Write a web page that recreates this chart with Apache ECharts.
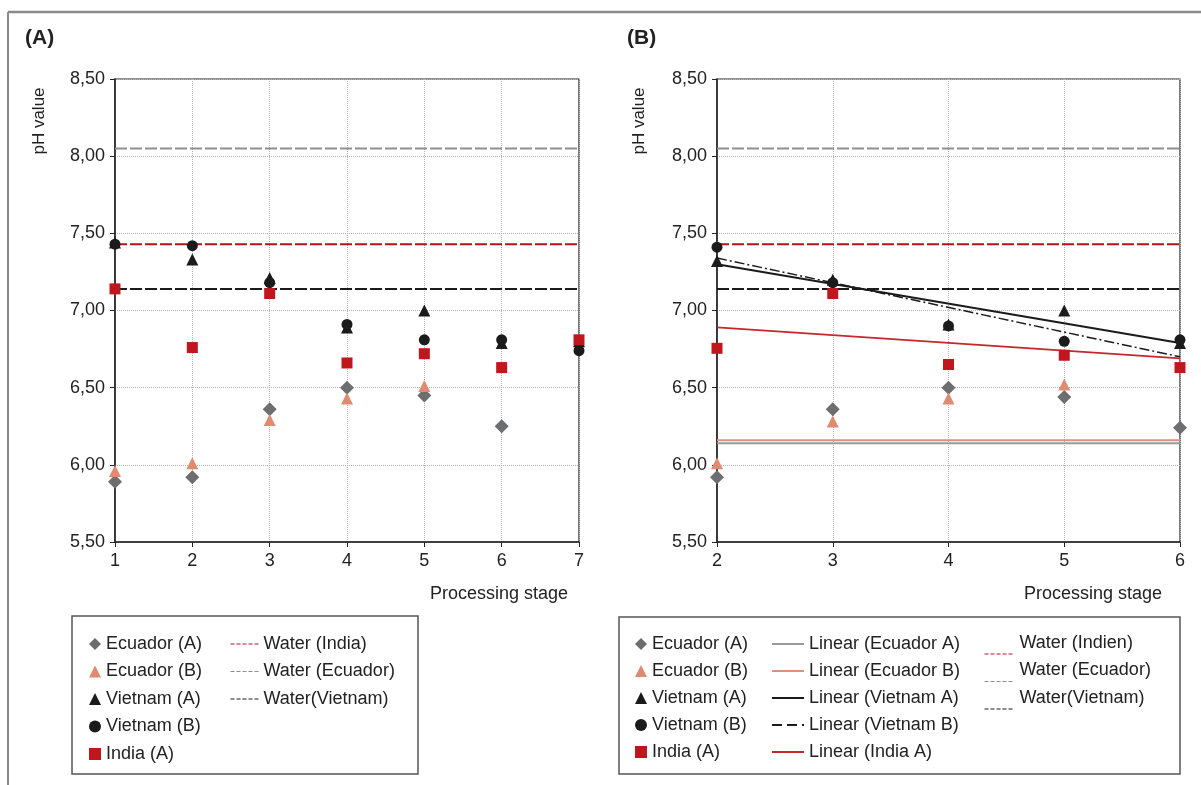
<!DOCTYPE html>
<html>
<head>
<meta charset="utf-8">
<title>pH value by processing stage</title>
<script src="https://cdn.jsdelivr.net/npm/echarts@6/dist/echarts.min.js"></script>
<style>
  html, body { margin: 0; padding: 0; background: #fff; }
  #main { width: 1201px; height: 785px; }
</style>
</head>
<body>
<div id="main"></div>
<script>
// stages shown on each panel
const stagesA = [1, 2, 3, 4, 5, 6, 7];
const stagesB = [2, 3, 4, 5, 6];
const yTicks = [5.5, 8.5];

// pH values (null = no point)
const ecuadorA = [5.89, 5.92, 6.36, 6.50, 6.45, 6.25, null];
const ecuadorB = [5.96, 6.01, 6.29, 6.43, 6.51, null, null];
const vietnamA = [7.44, 7.33, 7.21, 6.89, 7.00, 6.79, 6.80];
const vietnamB = [7.43, 7.42, 7.18, 6.91, 6.81, 6.81, 6.74];
const indiaA   = [7.14, 6.76, 7.11, 6.66, 6.72, 6.63, 6.81];

// panel B values (stages 2..6)
const ecuadorA2 = [5.92, 6.36, 6.50, 6.44, 6.24];
const ecuadorB2 = [6.01, 6.28, 6.43, 6.52, null];
const vietnamA2 = [7.32, 7.20, 6.91, 7.00, 6.79];
const vietnamB2 = [7.41, 7.18, 6.90, 6.80, 6.81];
const indiaA2   = [6.755, 7.11, 6.65, 6.71, 6.63];

// water reference levels: India, Ecuador, Vietnam
const waterPH = [7.43, 8.05, 7.14];

// linear trend lines in panel B, value at stage 2 and stage 6
const trendStages = [2, 6];
const trendEcuadorA = [6.14, 6.14];
const trendEcuadorB = [6.16, 6.16];
const trendVietnamA = [7.30, 6.79];
const trendVietnamB = [7.34, 6.70];
const trendIndiaA   = [6.89, 6.69];

const C_GREY = '#6d6e70';
const C_SALMON = '#e08a70';
const C_BLACK = '#1b1b1b';
const C_RED = '#c0161e';
const FONT = 'Liberation Sans, Arial, sans-serif';

function pts(xs, ys) {
  const out = [];
  xs.forEach((x, i) => { if (ys[i] != null) out.push([x, ys[i]]); });
  return out;
}

function flat(xs, v) {
  return [[xs[0], v], [xs[xs.length - 1], v]];
}

const chart = echarts.init(document.getElementById('main'));

function xAxis(gridIndex, range) {
  return {
    type: 'value', gridIndex: gridIndex, min: range[0], max: range[range.length - 1], interval: 1,
    axisLine: { show: true, onZero: false, lineStyle: { color: '#222', width: 1.5 } },
    axisTick: { show: true, length: 5, lineStyle: { color: '#222' } },
    axisLabel: { fontSize: 18, color: '#222', margin: 10, fontFamily: FONT },
    splitLine: { show: true, lineStyle: { color: '#b4b4b4', type: 'dotted' } }
  };
}

function yAxis(gridIndex) {
  return {
    type: 'value', gridIndex: gridIndex, min: yTicks[0], max: yTicks[1], interval: 0.5,
    axisLine: { show: true, lineStyle: { color: '#222', width: 1.5 } },
    axisTick: { show: true, length: 5, lineStyle: { color: '#222' } },
    axisLabel: {
      fontSize: 18, color: '#222', margin: 10, fontFamily: FONT,
      formatter: v => v.toFixed(2).replace('.', ',')
    },
    splitLine: { show: true, lineStyle: { color: '#b4b4b4', type: 'dotted' } }
  };
}

function scatter(name, idx, data, symbol, size, color) {
  return {
    name: name, type: 'scatter', xAxisIndex: idx, yAxisIndex: idx,
    symbol: symbol, symbolSize: size, itemStyle: { color: color, opacity: 1 },
    data: data, z: 5
  };
}

function line(name, idx, data, color, width, type) {
  return {
    name: name, type: 'line', xAxisIndex: idx, yAxisIndex: idx, symbol: 'none',
    lineStyle: { color: color, width: width, type: type }, itemStyle: { color: color },
    data: data, z: 3, silent: true
  };
}

const dash = [12, 3];
const legendText = { fontSize: 18, color: '#222', fontFamily: FONT, lineHeight: 20 };
// hides the point symbol that line series put in the middle of their legend icon
const noDot = { opacity: 0 };

const option = {
  animation: false,
  backgroundColor: '#fff',
  title: [
    { text: '(A)', left: 25, top: 28, padding: 0, textStyle: { fontSize: 21, fontWeight: 'bold', color: '#222', fontFamily: FONT } },
    { text: '(B)', left: 627, top: 28, padding: 0, textStyle: { fontSize: 21, fontWeight: 'bold', color: '#222', fontFamily: FONT } }
  ],
  grid: [
    { left: 115, top: 79, width: 464, height: 463, show: true, borderColor: '#222', borderWidth: 1.2, backgroundColor: 'transparent' },
    { left: 717, top: 79, width: 463, height: 463, show: true, borderColor: '#222', borderWidth: 1.2, backgroundColor: 'transparent' }
  ],
  xAxis: [xAxis(0, stagesA), xAxis(1, stagesB)],
  yAxis: [yAxis(0), yAxis(1)],
  legend: [
    {
      orient: 'vertical', left: 84, top: 629, itemWidth: 12, itemHeight: 12, itemGap: 7.5,
      selectedMode: false, textStyle: legendText,
      data: ['Ecuador (A)', 'Ecuador (B)', 'Vietnam (A)', 'Vietnam (B)', 'India (A)']
    },
    {
      orient: 'vertical', left: 225, top: 629, itemWidth: 28, itemHeight: 12, itemGap: 7.5,
      selectedMode: false, textStyle: legendText, itemStyle: noDot,
      lineStyle: { width: 1, type: [4, 2] },
      data: ['Water (India)', 'Water (Ecuador)', 'Water(Vietnam)']
    },
    {
      orient: 'vertical', left: 630, top: 629, itemWidth: 12, itemHeight: 12, itemGap: 7,
      selectedMode: false, textStyle: legendText,
      data: ['Ecuador (A)', 'Ecuador (B)', 'Vietnam (A)', 'Vietnam (B)', 'India (A)']
    },
    {
      orient: 'vertical', left: 766, top: 629, itemWidth: 32, itemHeight: 12, itemGap: 7,
      selectedMode: false, textStyle: legendText, itemStyle: noDot,
      data: [
        { name: 'Linear (Ecuador A)', lineStyle: { width: 2, type: 'solid' } },
        { name: 'Linear (Ecuador B)', lineStyle: { width: 2, type: 'solid' } },
        { name: 'Linear (Vietnam A)', lineStyle: { width: 2, type: 'solid' } },
        { name: 'Linear (Vietnam B)', lineStyle: { width: 2, type: [10, 5] } },
        { name: 'Linear (India A)', lineStyle: { width: 2, type: 'solid' } }
      ]
    },
    {
      // text sits above its dashed sample here, so each label gets an empty second line
      orient: 'vertical', left: 979, top: 627, itemWidth: 30, itemHeight: 12, itemGap: -16.5,
      selectedMode: false, itemStyle: noDot,
      textStyle: { fontSize: 18, color: '#222', fontFamily: FONT, lineHeight: 22 },
      formatter: name => name + '\n ',
      lineStyle: { width: 1, type: [4, 2] },
      data: ['Water (Indien)', 'Water (Ecuador)', 'Water(Vietnam)']
    }
  ],
  graphic: [
    // outer frame
    { type: 'line', shape: { x1: 8, y1: 12, x2: 1201, y2: 12 }, style: { stroke: '#8a8a8a', lineWidth: 2.5 }, silent: true },
    { type: 'line', shape: { x1: 8, y1: 12, x2: 8, y2: 785 }, style: { stroke: '#8a8a8a', lineWidth: 2 }, silent: true },
    // legend boxes
    { type: 'rect', shape: { x: 72, y: 616, width: 346, height: 158 }, style: { fill: 'none', stroke: '#555', lineWidth: 1.5 }, silent: true },
    { type: 'rect', shape: { x: 619, y: 617, width: 561, height: 157 }, style: { fill: 'none', stroke: '#555', lineWidth: 1.5 }, silent: true },
    // axis names
    { type: 'text', x: 39, y: 121, rotation: Math.PI / 2, style: { text: 'pH value', fontSize: 17, fill: '#222', fontFamily: FONT, align: 'center', verticalAlign: 'middle' }, silent: true },
    { type: 'text', x: 639, y: 121, rotation: Math.PI / 2, style: { text: 'pH value', fontSize: 17, fill: '#222', fontFamily: FONT, align: 'center', verticalAlign: 'middle' }, silent: true },
    { type: 'text', x: 568, y: 594, style: { text: 'Processing stage', fontSize: 18, fill: '#222', fontFamily: FONT, align: 'right', verticalAlign: 'middle' }, silent: true },
    { type: 'text', x: 1162, y: 594, style: { text: 'Processing stage', fontSize: 18, fill: '#222', fontFamily: FONT, align: 'right', verticalAlign: 'middle' }, silent: true }
  ],
  series: [
    // panel A water levels
    line('Water (India)', 0, flat(stagesA, waterPH[0]), '#b3141c', 2, dash),
    line('Water (Ecuador)', 0, flat(stagesA, waterPH[1]), '#8f8f8f', 2, dash),
    line('Water(Vietnam)', 0, flat(stagesA, waterPH[2]), C_BLACK, 2, dash),
    // panel A points
    scatter('Ecuador (A)', 0, pts(stagesA, ecuadorA), 'diamond', 14, C_GREY),
    scatter('Ecuador (B)', 0, pts(stagesA, ecuadorB), 'triangle', 12, C_SALMON),
    scatter('Vietnam (A)', 0, pts(stagesA, vietnamA), 'triangle', 12, C_BLACK),
    scatter('Vietnam (B)', 0, pts(stagesA, vietnamB), 'circle', 11, C_BLACK),
    scatter('India (A)', 0, pts(stagesA, indiaA), 'rect', 11, C_RED),

    // panel B water levels
    line('Water (Indien)', 1, flat(stagesB, waterPH[0]), '#b3141c', 2, dash),
    line('Water (Ecuador)', 1, flat(stagesB, waterPH[1]), '#8f8f8f', 2, dash),
    line('Water(Vietnam)', 1, flat(stagesB, waterPH[2]), C_BLACK, 2, dash),
    // panel B trend lines
    line('Linear (Ecuador A)', 1, pts(trendStages, trendEcuadorA), '#9a9a9a', 2, 'solid'),
    line('Linear (Ecuador B)', 1, pts(trendStages, trendEcuadorB), '#d9937a', 2, 'solid'),
    line('Linear (Vietnam A)', 1, pts(trendStages, trendVietnamA), C_BLACK, 2, 'solid'),
    line('Linear (Vietnam B)', 1, pts(trendStages, trendVietnamB), C_BLACK, 1.5, [10, 3, 2, 3]),
    line('Linear (India A)', 1, pts(trendStages, trendIndiaA), '#c8262c', 1.8, 'solid'),
    // panel B points
    scatter('Ecuador (A)', 1, pts(stagesB, ecuadorA2), 'diamond', 14, C_GREY),
    scatter('Ecuador (B)', 1, pts(stagesB, ecuadorB2), 'triangle', 12, C_SALMON),
    scatter('Vietnam (A)', 1, pts(stagesB, vietnamA2), 'triangle', 12, C_BLACK),
    scatter('Vietnam (B)', 1, pts(stagesB, vietnamB2), 'circle', 11, C_BLACK),
    scatter('India (A)', 1, pts(stagesB, indiaA2), 'rect', 11, C_RED)
  ]
};

chart.setOption(option);
</script>
</body>
</html>
